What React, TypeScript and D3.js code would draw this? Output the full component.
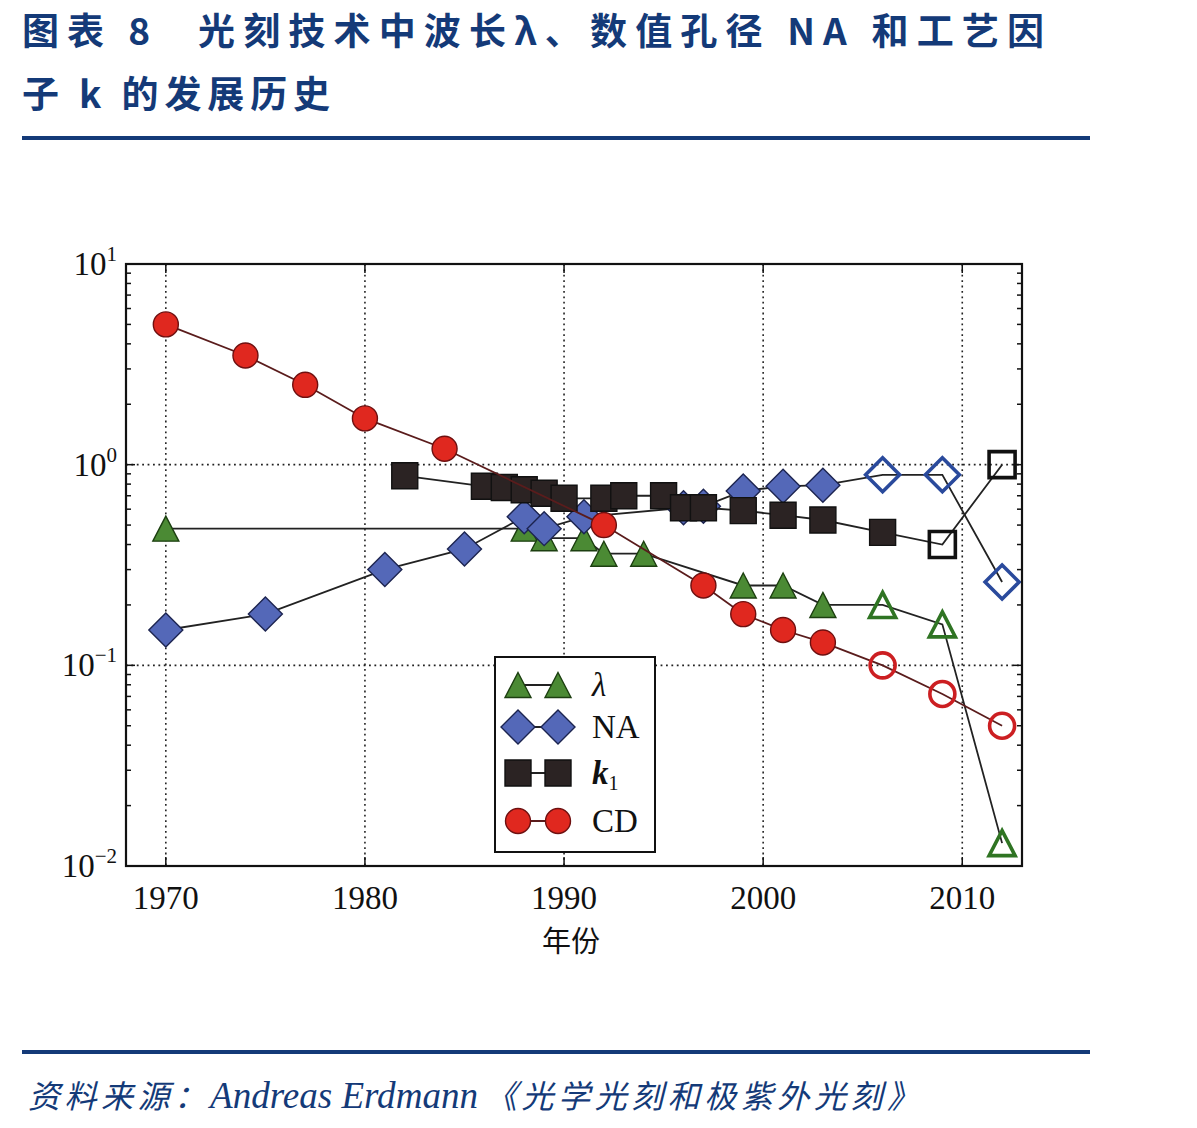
import React, { useEffect, useRef } from "react";
import * as d3 from "d3";

// wavelength λ (µm)
const lambdaYears = [1970, 1988, 1989, 1991, 1992, 1994, 1999, 2001, 2003, 2006, 2009, 2012];
const lambdaValues = [0.48, 0.48, 0.43, 0.43, 0.36, 0.36, 0.25, 0.25, 0.2, 0.2, 0.16, 0.013];
const lambdaOpen = [2006, 2009, 2012];

// numerical aperture
const naYears = [1970, 1975, 1981, 1985, 1988, 1989, 1991, 1996, 1997, 1999, 2001, 2003, 2006, 2009, 2012];
const naValues = [0.15, 0.18, 0.3, 0.38, 0.55, 0.48, 0.55, 0.61, 0.62, 0.74, 0.78, 0.79, 0.89, 0.89, 0.26];
const naOpen = [2006, 2009, 2012];

// process factor k1
const k1Years = [1982, 1986, 1987, 1988, 1989, 1990, 1992, 1993, 1995, 1996, 1997, 1999, 2001, 2003, 2006, 2009, 2012];
const k1Values = [0.88, 0.78, 0.77, 0.75, 0.72, 0.68, 0.68, 0.7, 0.7, 0.61, 0.61, 0.59, 0.56, 0.53, 0.46, 0.4, 1.0];
const k1Open = [2009, 2012];

// critical dimension (µm)
const cdYears = [1970, 1974, 1977, 1980, 1984, 1992, 1997, 1999, 2001, 2003, 2006, 2009, 2012];
const cdValues = [5.0, 3.5, 2.5, 1.7, 1.2, 0.5, 0.25, 0.18, 0.15, 0.13, 0.1, 0.072, 0.05];
const cdOpen = [2006, 2009, 2012];

const xTicks = [1970, 1980, 1990, 2000, 2010];
const yTicks = [0.01, 0.1, 1, 10];
const yTickExps = ["\u22122", "\u22121", "0", "1"];

const markerPath = (shape: string) => {
  if (shape === "triangle") return "M0,-12.5L13,12.5L-13,12.5Z";
  if (shape === "diamond") return "M0,-17L17,0L0,17L-17,0Z";
  if (shape === "square") return "M-13,-13h26v26h-26Z";
  const r = 12.5;
  return `M${r},0A${r},${r} 0 1 1 ${-r},0A${r},${r} 0 1 1 ${r},0Z`;
};

const Chart = () => {
  const svgRef = useRef<SVGSVGElement>(null);

  useEffect(() => {
    const svg = d3.select(svgRef.current);
    svg.selectAll("*").remove();

    const navy = "#143a78";
    const serif = "'Liberation Serif', 'Times New Roman', serif";
    const cjk = "'Noto Sans CJK SC', sans-serif";

    // title
    const title = (tx: number, ty: number, len: number, s: string) =>
      svg.append("text").attr("x", tx).attr("y", ty).attr("fill", navy)
        .attr("font-family", cjk).attr("font-weight", "bold").attr("font-size", 37)
        .attr("textLength", len).attr("lengthAdjust", "spacing").text(s);
    title(22, 45, 128, "图表 8");
    title(198, 45, 846, "光刻技术中波长λ、数值孔径 NA 和工艺因");
    title(22, 108, 308, "子 k 的发展历史");
    svg.append("rect").attr("x", 22).attr("y", 136).attr("width", 1068).attr("height", 4).attr("fill", navy);
    svg.append("rect").attr("x", 22).attr("y", 1050).attr("width", 1068).attr("height", 4).attr("fill", navy);

    // source note
    const note = (tx: number, len: number, s: string) =>
      svg.append("text").attr("x", tx).attr("y", 1108).attr("fill", navy)
        .attr("font-family", cjk).attr("font-style", "italic").attr("font-size", 32)
        .attr("textLength", len).attr("lengthAdjust", "spacing").text(s);
    note(28, 178, "资料来源：");
    svg.append("text").attr("x", 210).attr("y", 1108).attr("fill", navy)
      .attr("font-family", serif).attr("font-style", "italic").attr("font-size", 38)
      .attr("textLength", 268).attr("lengthAdjust", "spacingAndGlyphs").text("Andreas Erdmann");
    note(485, 434, "《光学光刻和极紫外光刻》");

    // scales
    const x = d3.scaleLinear().domain([1968, 2013]).range([126, 1022]);
    const y = d3.scaleLog().domain([0.01, 10]).range([866, 264]);
    const [x0, x1] = x.range();
    const [y0, y1] = y.range();

    const plot = svg.append("g");

    // grid
    plot.selectAll(".gx").data(xTicks).enter().append("line")
      .attr("x1", (d) => x(d)).attr("x2", (d) => x(d)).attr("y1", y1).attr("y2", y0)
      .attr("stroke", "#222").attr("stroke-width", 1.6).attr("stroke-dasharray", "1.8,3.6");
    plot.selectAll(".gy").data([0.1, 1]).enter().append("line")
      .attr("x1", x0).attr("x2", x1).attr("y1", (d) => y(d)).attr("y2", (d) => y(d))
      .attr("stroke", "#222").attr("stroke-width", 1.6).attr("stroke-dasharray", "1.8,3.6");

    // ticks (inward)
    const minor: number[] = [];
    [0.01, 0.1, 1].forEach((dec) => d3.range(2, 10).forEach((m) => minor.push(dec * m)));
    [x0, x1].forEach((ax) => {
      const dir = ax === x0 ? 1 : -1;
      plot.selectAll(null).data(minor).enter().append("line")
        .attr("x1", ax).attr("x2", ax + dir * 5).attr("y1", (d) => y(d)).attr("y2", (d) => y(d))
        .attr("stroke", "#111").attr("stroke-width", 1.5);
      plot.selectAll(null).data(yTicks).enter().append("line")
        .attr("x1", ax).attr("x2", ax + dir * 9).attr("y1", (d) => y(d)).attr("y2", (d) => y(d))
        .attr("stroke", "#111").attr("stroke-width", 1.5);
    });
    [y0, y1].forEach((ay) => {
      const dir = ay === y0 ? -1 : 1;
      plot.selectAll(null).data(xTicks).enter().append("line")
        .attr("x1", (d) => x(d)).attr("x2", (d) => x(d)).attr("y1", ay).attr("y2", ay + dir * 9)
        .attr("stroke", "#111").attr("stroke-width", 1.5);
    });

    // tick labels
    const yl = plot.selectAll(null).data(yTicks).enter().append("text")
      .attr("x", 117).attr("y", (d) => y(d) + 11).attr("text-anchor", "end")
      .attr("font-family", serif).attr("fill", "#111");
    yl.append("tspan").attr("font-size", 33).text("10");
    yl.append("tspan").attr("font-size", 21).attr("dy", -14).text((d, i) => yTickExps[i]);

    plot.selectAll(null).data(xTicks).enter().append("text")
      .attr("x", (d) => x(d)).attr("y", 909).attr("text-anchor", "middle")
      .attr("font-family", serif).attr("font-size", 33).attr("fill", "#111")
      .text((d) => d);
    plot.append("text").attr("x", 571).attr("y", 952).attr("text-anchor", "middle")
      .attr("font-family", cjk).attr("font-size", 29).attr("fill", "#111").text("年份");

    // series
    const series = [
      { years: lambdaYears, values: lambdaValues, open: lambdaOpen, shape: "triangle", fill: "#4b8a34", stroke: "#1c3f10", openStroke: "#2f7423", line: "#222" },
      { years: naYears, values: naValues, open: naOpen, shape: "diamond", fill: "#5468b8", stroke: "#1c2450", openStroke: "#2a4a9c", line: "#222" },
      { years: k1Years, values: k1Values, open: k1Open, shape: "square", fill: "#2b2323", stroke: "#111", openStroke: "#111", line: "#222" },
      { years: cdYears, values: cdValues, open: cdOpen, shape: "circle", fill: "#e0281f", stroke: "#6e1010", openStroke: "#cc1f22", line: "#5a1c1c" },
    ];

    const line = d3.line<[number, number]>().x((d) => x(d[0])).y((d) => y(d[1]));

    series.forEach((s) => {
      const pts = s.years.map((yr, i) => [yr, s.values[i]] as [number, number]);
      plot.append("path").attr("d", line(pts)).attr("fill", "none")
        .attr("stroke", s.line).attr("stroke-width", 1.8);
      plot.selectAll(null).data(pts).enter().append("path")
        .attr("d", markerPath(s.shape))
        .attr("transform", (d) => `translate(${x(d[0])},${y(d[1])})`)
        .attr("fill", (d) => (s.open.includes(d[0]) ? "none" : s.fill))
        .attr("stroke", (d) => (s.open.includes(d[0]) ? s.openStroke : s.stroke))
        .attr("stroke-width", (d) => (s.open.includes(d[0]) ? 3.6 : 1.4));
    });

    // frame
    plot.append("rect").attr("x", x0).attr("y", y1).attr("width", x1 - x0).attr("height", y0 - y1)
      .attr("fill", "none").attr("stroke", "#111").attr("stroke-width", 2.2);

    // legend
    const lg = plot.append("g");
    lg.append("rect").attr("x", 495).attr("y", 657).attr("width", 160).attr("height", 195)
      .attr("fill", "#fff").attr("stroke", "#111").attr("stroke-width", 2);
    const rowY = [685, 727, 773, 821];
    series.forEach((s, i) => {
      const ry = rowY[i];
      lg.append("line").attr("x1", 518).attr("x2", 558).attr("y1", ry).attr("y2", ry)
        .attr("stroke", s.line).attr("stroke-width", 1.8);
      [518, 558].forEach((mx) => {
        lg.append("path").attr("d", markerPath(s.shape)).attr("transform", `translate(${mx},${ry})`)
          .attr("fill", s.fill).attr("stroke", s.stroke).attr("stroke-width", 1.4);
      });
    });
    const lt = (i: number) => lg.append("text").attr("x", 592).attr("y", rowY[i] + 11)
      .attr("font-family", serif).attr("font-size", 33).attr("fill", "#111");
    lt(0).attr("font-style", "italic").text("λ");
    lt(1).text("NA");
    const k = lt(2);
    k.append("tspan").attr("font-style", "italic").attr("font-weight", "bold").text("k");
    k.append("tspan").attr("font-size", 20).attr("dy", 6).text("1");
    lt(3).text("CD");
  }, []);

  return (
    <svg ref={svgRef} width={1197} height={1128}
      style={{ position: "absolute", left: 0, top: 0, background: "#fff" }} />
  );
};

export default function App() {
  return <Chart />;
}
